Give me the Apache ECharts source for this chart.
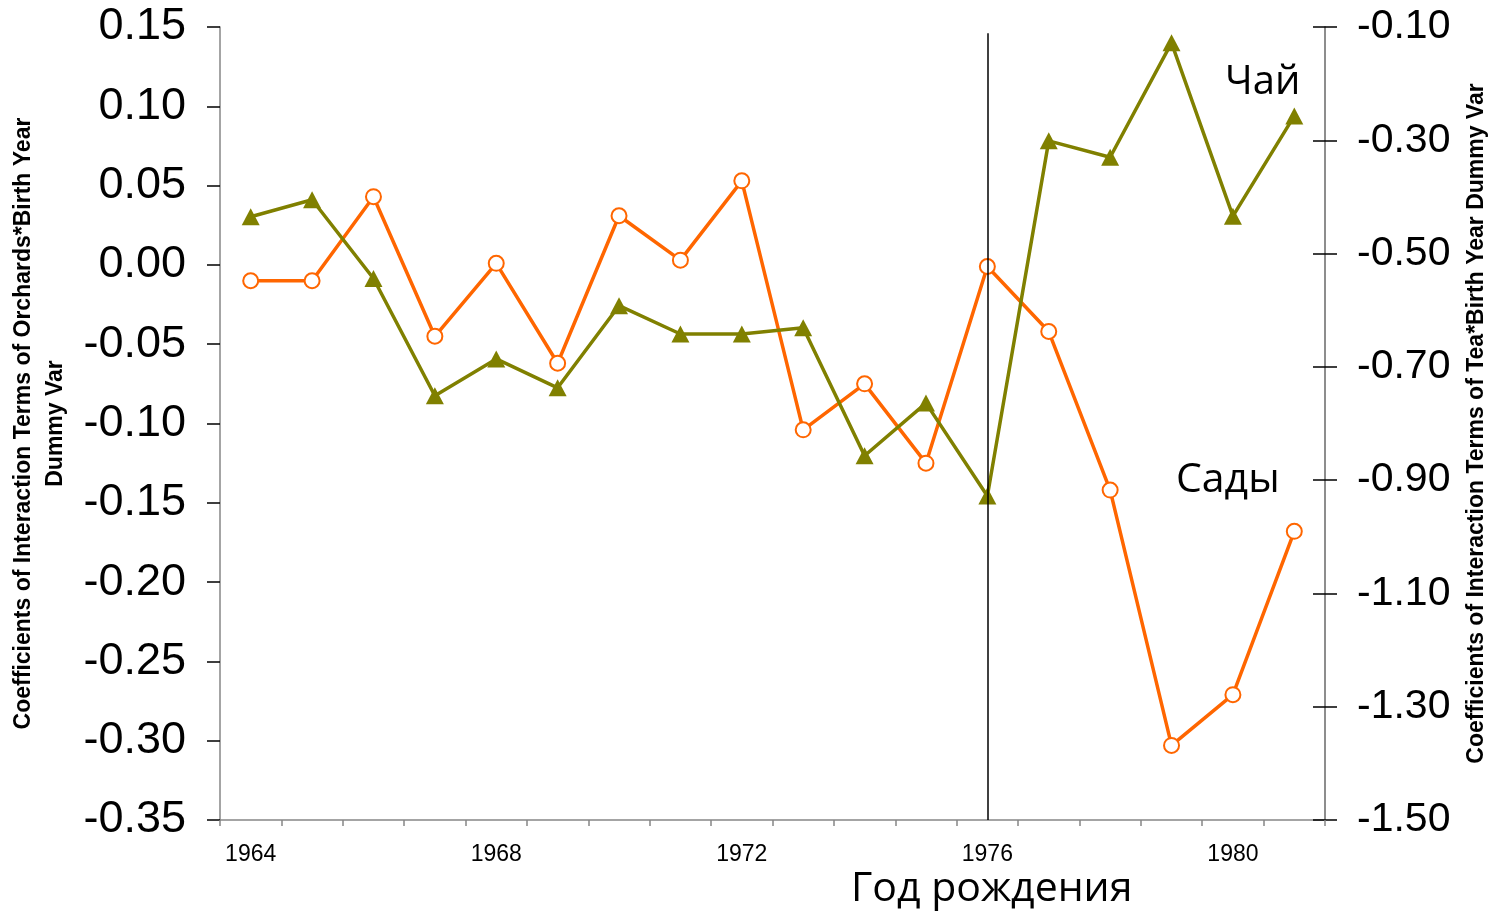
<!DOCTYPE html>
<html>
<head>
<meta charset="utf-8">
<script src="https://cdn.jsdelivr.net/npm/echarts@6/dist/echarts.min.js"></script>
<style>
  html, body { margin: 0; padding: 0; background: #fff; }
  #chart { width: 1493px; height: 912px; }
</style>
</head>
<body>
<div id="chart"></div>
<script>
// birth years
const years = ['1964', '1965', '1966', '1967', '1968', '1969', '1970', '1971', '1972',
  '1973', '1974', '1975', '1976', '1977', '1978', '1979', '1980', '1981']
// orchards (left axis)
const orchards = [-0.010, -0.010, 0.043, -0.045, 0.001, -0.062, 0.031, 0.003, 0.053,
  -0.104, -0.075, -0.125, -0.001, -0.042, -0.142, -0.303, -0.271, -0.168]
// tea (right axis)
const tea = [-0.435, -0.405, -0.544, -0.751, -0.686, -0.737, -0.592, -0.642, -0.642,
  -0.631, -0.857, -0.764, -0.928, -0.301, -0.330, -0.128, -0.434, -0.257]
const rightTicks = [-1.5, -1.3, -1.1, -0.9, -0.7, -0.5, -0.3, -0.1]
const cutYear = '1976'

const chart = echarts.init(document.getElementById('chart'))

const axisGray = '#868686'
const rightAxisBase = {
  type: 'value',
  position: 'right',
  min: -1.5,
  max: -0.1,
  splitLine: { show: false },
  axisLine: { show: true, lineStyle: { color: axisGray, width: 1.5 } }
}

chart.setOption({
  animation: false,
  textStyle: { fontFamily: '"Liberation Sans", Arial, sans-serif' },
  grid: { left: 220, right: 168, top: 27, bottom: 92, outerBoundsMode: 'none', containLabel: false },
  xAxis: {
    type: 'category',
    data: years,
    boundaryGap: true,
    axisLine: { onZero: false, lineStyle: { color: axisGray, width: 1.5 } },
    axisTick: { show: true, interval: 0, length: 6, lineStyle: { color: axisGray, width: 1.5 } },
    axisLabel: { interval: 3, fontSize: 23, color: '#000', margin: 23 },
    splitLine: { show: false }
  },
  yAxis: [{
    type: 'value',
    position: 'left',
    min: -0.35,
    max: 0.15,
    interval: 0.05,
    name: 'Coefficients of Interaction Terms of Orchards*Birth Year\nDummy Var',
    nameLocation: 'middle',
    nameGap: 148,
    nameTextStyle: { fontSize: 23, fontWeight: 'bold', color: '#000', lineHeight: 32 },
    splitLine: { show: false },
    axisLine: { show: true, lineStyle: { color: axisGray, width: 1.5 } },
    axisTick: { show: true, length: 13, lineStyle: { color: '#000', width: 1.5 } },
    axisLabel: { fontSize: 45, color: '#000', margin: 34, formatter: v => v.toFixed(2) }
  }, Object.assign({}, rightAxisBase, {
    name: 'Coefficients of Interaction Terms of Tea*Birth Year Dummy Var',
    nameLocation: 'middle',
    nameGap: 140,
    nameRotate: 90,
    nameTextStyle: { fontSize: 23, fontWeight: 'bold', color: '#000' },
    axisTick: { show: true, length: 12, customValues: rightTicks, lineStyle: { color: '#000', width: 1.5 } },
    axisLabel: { fontSize: 41, color: '#000', margin: 32, customValues: rightTicks, formatter: v => v.toFixed(2) }
  }), Object.assign({}, rightAxisBase, {
    // inner half of the crossing ticks on the right axis
    axisTick: { show: true, inside: true, length: 12, customValues: rightTicks, lineStyle: { color: '#000', width: 1.5 } },
    axisLabel: { show: false }
  })],
  graphic: [
    { type: 'text', left: 1225, top: 63, style: { text: 'Чай', fontSize: 40, fontFamily: '"Open Sans", sans-serif', fill: '#000' } },
    { type: 'text', left: 1176, top: 460, style: { text: 'Сады', fontSize: 41, fontFamily: '"Open Sans", sans-serif', fill: '#000' } },
    { type: 'text', left: 851, top: 869, style: { text: 'Год рождения', fontSize: 41, fontFamily: '"Open Sans", sans-serif', fill: '#000' } }
  ],
  series: [{
    name: 'Сады',
    type: 'line',
    yAxisIndex: 0,
    data: orchards,
    symbol: 'circle',
    symbolSize: 15,
    lineStyle: { color: '#FF6600', width: 3.5 },
    itemStyle: { color: '#fff', borderColor: '#FF6600', borderWidth: 2 },
    z: 2,
    markLine: {
      silent: true,
      symbol: 'none',
      label: { show: false },
      lineStyle: { color: '#000', width: 1.5, type: 'solid' },
      data: [[{ coord: [cutYear, 0.146] }, { coord: [cutYear, -0.35] }]]
    }
  }, {
    name: 'Чай',
    type: 'line',
    yAxisIndex: 1,
    data: tea,
    symbol: 'triangle',
    symbolSize: [18, 17],
    lineStyle: { color: '#808000', width: 3.5 },
    itemStyle: { color: '#808000' },
    z: 3
  }]
})
</script>
</body>
</html>
